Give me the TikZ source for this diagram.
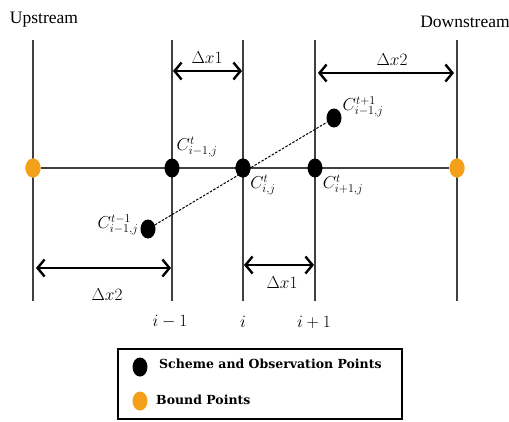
\documentclass[tikz,border=0pt]{standalone}
\usepackage{fontspec}
\setmainfont{Liberation Serif}
\newfontfamily\legendfont{DejaVu Serif}
\usetikzlibrary{arrows.meta,shapes.geometric}
\definecolor{boundorange}{HTML}{F5A01A}
\definecolor{gridgray}{HTML}{404040}
\tikzset{
  gridline/.style={draw=gridgray, line width=1.1pt},
  dimarrow/.style={draw=black, line width=2.4pt, {Straight Barb[length=7pt,width=17pt]}-{Straight Barb[length=7pt,width=17pt]}},
  blackdot/.style={ellipse, fill=black, minimum width=15pt, minimum height=19pt, inner sep=0pt},
  orangedot/.style={ellipse, fill=boundorange, minimum width=15pt, minimum height=19pt, inner sep=0pt},
  mathlbl/.style={font=\fontsize{17}{20}\selectfont, inner sep=0pt},
  dimlbl/.style={font=\fontsize{16.5}{19}\selectfont, inner sep=0pt},
  idxlbl/.style={font=\fontsize{17.5}{20}\selectfont, inner sep=0pt},
  titlelbl/.style={font=\fontsize{17.5}{20}\selectfont, inner sep=0pt},
  legendtext/.style={font=\legendfont\bfseries\fontsize{12.5}{15}\selectfont, anchor=west, inner sep=0pt}
}
\begin{document}
\begin{tikzpicture}[x=1pt,y=-1pt]
\useasboundingbox (0,0) rectangle (509,421);
% vertical grid lines
\foreach \n/\x in {a/33,b/172,c/243,d/315,e/457}{
  \coordinate (\n top) at (\x,40);
  \coordinate (\n bot) at (\x,301);
  \draw[gridline] (\n top) -- (\n bot);
}
% points
\node[orangedot] (up) at (33,168) {};
\node[orangedot] (down) at (457,168) {};
\draw[gridline] (up) -- (down);
\node[orangedot] at (33,168) {};
\node[orangedot] at (457,168) {};
\node[blackdot] (pim) at (172,168) {};
\node[blackdot] (pi) at (243,168) {};
\node[blackdot] (pip) at (315,168) {};
\node[blackdot] (pold) at (148,229) {};
\node[blackdot] (pnew) at (334,118) {};
\draw[black, line width=1pt, dash pattern=on 2.5pt off 1.5pt] (pold) -- (pnew);
\node[blackdot] at (243,168) {};
% point labels
\node[mathlbl] (lim) at (197,147) {$C^{t}_{i-1,j}$};
\node[mathlbl] (lnew) at (363,107) {$C^{t+1}_{i-1,j}$};
\node[mathlbl] (li) at (263,185) {$C^{t}_{i,j}$};
\node[mathlbl] (lip) at (343,185) {$C^{t}_{i+1,j}$};
\node[mathlbl] (lold) at (118,225) {$C^{t-1}_{i-1,j}$};
% dimension arrows
\coordinate (t1a) at (173,71); \coordinate (t1b) at (242,71);
\draw[dimarrow] (t1a) -- (t1b);
\node[dimlbl] (t1l) at (207,58) {$\Delta x1$};
\coordinate (t2a) at (318,73); \coordinate (t2b) at (454,73);
\draw[dimarrow] (t2a) -- (t2b);
\node[dimlbl] (t2l) at (392,60) {$\Delta x2$};
\coordinate (b2a) at (36,268); \coordinate (b2b) at (171,268);
\draw[dimarrow] (b2a) -- (b2b);
\node[dimlbl] (b2l) at (107,295) {$\Delta x2$};
\coordinate (b1a) at (244,265); \coordinate (b1b) at (314,265);
\draw[dimarrow] (b1a) -- (b1b);
\node[dimlbl] (b1l) at (282,283) {$\Delta x1$};
% index labels
\node[idxlbl] (iim) at (170,322) {$i-1$};
\node[idxlbl] (ii) at (243,322) {$i$};
\node[idxlbl] (iip) at (314,322) {$i+1$};
% titles
\node[titlelbl] (ups) at (44,20) {Upstream};
\node[titlelbl] (dns) at (465,22) {Downstream};
% legend
\draw[black, line width=1.6pt] (118,349) rectangle (402,419);
\node[blackdot] (lgb) at (140,367) {};
\node[orangedot] (lgo) at (140,401) {};
\node[legendtext] (lgbt) at (159,364) {Scheme and Observation Points};
\node[legendtext] (lgot) at (156,400) {Bound Points};
\end{tikzpicture}
\end{document}
